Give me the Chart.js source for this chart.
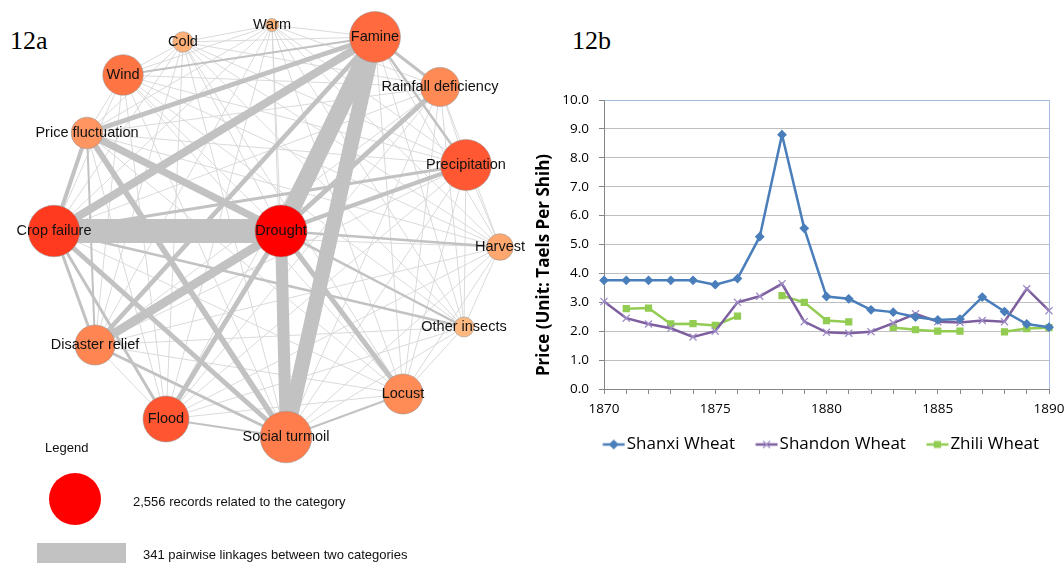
<!DOCTYPE html>
<html><head><meta charset="utf-8">
<script src="https://cdn.jsdelivr.net/npm/chart.js@4.4.1/dist/chart.umd.min.js"></script>
<style>
html,body{margin:0;padding:0;background:#fff;width:1064px;height:563px;overflow:hidden;position:relative}
#net{position:absolute;left:0;top:0}
#price{position:absolute;left:530px;top:70px}
.tag{position:absolute;font-family:"Liberation Serif","DejaVu Serif",serif;font-size:26px;color:#000;line-height:1}
</style></head><body>
<div class="tag" style="left:10px;top:28px">12a</div>
<div class="tag" style="left:572px;top:28px">12b</div>
<canvas id="net" width="530" height="563"></canvas>
<canvas id="price" width="550" height="410"></canvas>
<script>
// ---------- 12a data: network of categories ----------
const nodeNames = ['Famine','Warm','Cold','Wind','Rainfall deficiency','Price fluctuation','Precipitation',
  'Crop failure','Drought','Harvest','Other insects','Disaster relief','Flood','Social turmoil','Locust'];
const nodeX = [375,272,183,123,440,87,466,54,281,500,464,95,166,286,403];
const nodeY = [37,25,42,75,87,133,165,231,231,247,327,345,419,437,394];
const nodeRecords = [2450,160,400,1550,1450,950,2450,2520,2556,670,380,1520,2000,2520,1520];
const linkFrom = ['Crop failure','Famine','Famine','Drought','Drought','Famine','Price fluctuation','Price fluctuation',
  'Famine','Crop failure','Drought','Drought','Drought','Famine','Drought','Crop failure','Famine','Crop failure',
  'Crop failure','Crop failure','Disaster relief','Famine','Crop failure','Drought','Drought','Famine',
  'Price fluctuation','Flood','Social turmoil'];
const linkTo = ['Drought','Drought','Social turmoil','Social turmoil','Disaster relief','Crop failure','Drought','Social turmoil',
  'Price fluctuation','Social turmoil','Locust','Flood','Rainfall deficiency','Disaster relief','Precipitation','Price fluctuation','Rainfall deficiency','Precipitation',
  'Disaster relief','Flood','Social turmoil','Precipitation','Other insects','Harvest','Other insects','Wind',
  'Disaster relief','Social turmoil','Locust'];
const linkCounts = [410,290,255,205,150,135,120,100,85,85,85,85,85,80,70,68,50,50,50,50,50,42,40,40,40,34,34,34,34];
const minorLinkCount = 15;        // every remaining pair of categories
const legendRecords = 2556;
const legendLinks = 341;

// ---------- 12b data: wheat prices ----------
const years = ['1870','1871','1872','1873','1874','1875','1876','1877','1878','1879','1880',
  '1881','1882','1883','1884','1885','1886','1887','1888','1889','1890'];
const shanxiWheat = [3.76,3.76,3.76,3.76,3.76,3.61,3.82,5.27,8.80,5.56,3.20,3.12,2.74,2.66,2.49,2.39,2.42,3.18,2.68,2.25,2.14];
const shandonWheat = [3.03,2.45,2.25,2.10,1.80,2.00,3.00,3.21,3.64,2.33,1.96,1.93,1.98,2.28,2.60,2.33,2.30,2.37,2.33,3.47,2.71];
const zhiliWheat = [null,2.78,2.80,2.25,2.26,2.20,2.52,null,3.23,3.00,2.37,2.32,null,2.13,2.05,2.00,2.00,null,1.98,2.09,2.12];
const yTicks = [0,1,2,3,4,5,6,7,8,9,10];

// ---------- styles ----------
const nodeColors = ['#FF6A3F','#FFB57C','#FFB079','#FF7443','#FF8A55','#FF9661','#FF5833',
  '#FF3A1E','#FF0000','#FFA76F','#FFB87F','#FF8552','#FF5530','#FF7D4C','#FF8B56'];
const MAX_R = 26, MAX_W = 20;
const radiusOf = rec => MAX_R * Math.sqrt(rec / legendRecords);
const widthOf = n => Math.max(0.9, MAX_W * n / legendLinks);

// build edges (complete graph, known strong links overridden)
const idx = name => nodeNames.indexOf(name);
const strong = {};
linkFrom.forEach((f, k) => {
  const a = idx(f), b = idx(linkTo[k]);
  strong[Math.min(a,b) + '-' + Math.max(a,b)] = linkCounts[k];
});
const edgeSets = [];
for (let a = 0; a < nodeNames.length; a++) {
  for (let b = a + 1; b < nodeNames.length; b++) {
    const key = a + '-' + b;
    const isStrong = strong[key] !== undefined;
    const n = isStrong ? strong[key] : minorLinkCount;
    edgeSets.push({
      type: 'line',
      data: [{x: nodeX[a], y: nodeY[a]}, {x: nodeX[b], y: nodeY[b]}],
      borderColor: isStrong ? '#C2C2C2' : '#D6D6D6',
      borderWidth: widthOf(n),
      borderCapStyle: 'butt',
      pointRadius: 0,
      showLine: true,
      fill: false,
      order: isStrong ? 2 + (1 / n) : 5,
      clip: false
    });
  }
}
const nodeSet = {
  type: 'scatter',
  data: nodeNames.map((nm, i) => ({x: nodeX[i], y: nodeY[i]})),
  pointRadius: nodeRecords.map(radiusOf),
  pointBackgroundColor: nodeColors,
  pointBorderColor: 'rgba(150,150,150,0.55)',
  pointBorderWidth: 1,
  order: 0,
  clip: false
};

const netLabels = {
  id: 'netLabels',
  afterDatasetsDraw(chart) {
    const {ctx, scales: {x, y}} = chart;
    ctx.save();
    ctx.font = '14.5px "Liberation Sans", Arial, sans-serif';
    ctx.fillStyle = '#111';
    ctx.textAlign = 'center';
    ctx.textBaseline = 'middle';
    nodeNames.forEach((nm, i) => ctx.fillText(nm, x.getPixelForValue(nodeX[i]), y.getPixelForValue(nodeY[i])));
    // legend
    ctx.font = '13px "Liberation Sans", Arial, sans-serif';
    ctx.textAlign = 'left';
    ctx.fillText('Legend', 45, 448);
    ctx.beginPath();
    ctx.arc(75, 499, radiusOf(legendRecords), 0, Math.PI * 2);
    ctx.fillStyle = '#FF0000';
    ctx.fill();
    ctx.fillStyle = '#111';
    ctx.fillText('2,556 records related to the category', 133, 502);
    ctx.fillStyle = '#C2C2C2';
    ctx.fillRect(37, 543, 89, widthOf(legendLinks));
    ctx.fillStyle = '#111';
    ctx.fillText('341 pairwise linkages between two categories', 143, 555);
    ctx.restore();
  }
};

new Chart(document.getElementById('net'), {
  type: 'scatter',
  data: {datasets: [nodeSet, ...edgeSets]},
  options: {
    responsive: false, animation: false, devicePixelRatio: 1, events: [],
    layout: {padding: 0, autoPadding: false},
    plugins: {legend: {display: false}, tooltip: {enabled: false}},
    scales: {
      x: {type: 'linear', min: 0, max: 530, display: false},
      y: {type: 'linear', min: 0, max: 563, reverse: true, display: false}
    }
  },
  plugins: [netLabels]
});

// ---------- 12b chart ----------
const seriesStyles = [
  {label: 'Shanxi Wheat', color: '#4A7EBB', marker: 'rectRot', markerColor: '#4A7EBB', r: 4},
  {label: 'Shandon Wheat', color: '#7D5FA0', marker: 'crossRot', markerColor: '#A08DC6', r: 5},
  {label: 'Zhili Wheat', color: '#92CC52', marker: 'rect', markerColor: '#92CC52', r: 4.2}
];
const seriesData = [shanxiWheat, shandonWheat, zhiliWheat];

function legendImage(st) {
  const c = document.createElement('canvas');
  c.width = 40; c.height = 12;
  const g = c.getContext('2d');
  g.strokeStyle = st.color; g.lineWidth = 2.5;
  g.beginPath(); g.moveTo(17.5, 6); g.lineTo(39.5, 6); g.stroke();
  g.fillStyle = st.markerColor; g.strokeStyle = st.markerColor; g.lineWidth = 1.3;
  Chart.helpers.drawPoint(g, {pointStyle: st.marker, radius: st.r, borderWidth: 1.3}, 28.5, 6);
  return c;
}

const yTitle = {
  id: 'yTitle',
  afterDraw(chart) {
    const {ctx, chartArea} = chart;
    ctx.save();
    ctx.translate(14.5, chartArea.bottom - 124);
    ctx.rotate(-Math.PI / 2);
    ctx.font = 'bold 17px "Open Sans", "DejaVu Sans", sans-serif';
    ctx.fillStyle = '#000';
    ctx.textAlign = 'center';
    ctx.textBaseline = 'middle';
    ctx.fillText('Price (Unit: Taels Per Shih)', 0, 0);
    ctx.restore();
  }
};

const tickFont = {family: '"Open Sans", "DejaVu Sans", sans-serif', size: 13.5};
new Chart(document.getElementById('price'), {
  type: 'line',
  data: {
    labels: years,
    datasets: seriesStyles.map((st, i) => ({
      label: st.label,
      data: seriesData[i],
      borderColor: st.color,
      backgroundColor: st.markerColor,
      borderWidth: 2.5,
      pointStyle: st.marker,
      pointRadius: st.r,
      pointBackgroundColor: st.markerColor,
      pointBorderColor: st.markerColor,
      pointBorderWidth: 1.3,
      tension: 0,
      spanGaps: false,
      clip: 8
    }))
  },
  options: {
    responsive: false, animation: false, devicePixelRatio: 1, events: [],
    layout: {padding: {left: 4, right: 31, top: 30, bottom: 17}},
    plugins: {
      tooltip: {enabled: false},
      legend: {
        position: 'bottom', align: 'end',
        labels: {
          usePointStyle: true, pointStyleWidth: 26, padding: 10, color: '#000',
          font: {family: '"Open Sans", "DejaVu Sans", sans-serif', size: 17},
          generateLabels: () => seriesStyles.map((st, i) => ({
            text: st.label, pointStyle: legendImage(st), fillStyle: st.color,
            strokeStyle: st.color, lineWidth: 0, hidden: false, datasetIndex: i
          }))
        }
      }
    },
    scales: {
      x: {
        offset: false,
        grid: {
          drawOnChartArea: true, drawTicks: true, tickLength: 5, tickColor: '#868686',
          color: ctx => ctx.index === years.length - 1 ? '#A7BFDE' : 'rgba(0,0,0,0)'
        },
        border: {color: '#868686', width: 1},
        ticks: {autoSkip: false, maxRotation: 0, padding: 7, color: '#000', font: tickFont,
          callback: (v, i) => i % 5 === 0 ? years[i] : ''},
        afterFit: s => { s.height = 37; }
      },
      y: {
        min: yTicks[0], max: yTicks[yTicks.length - 1],
        afterBuildTicks: s => { s.ticks = yTicks.map(v => ({value: v})); },
        grid: {tickLength: 5, tickColor: '#868686',
          color: ctx => ctx.tick && ctx.tick.value === 10 ? '#A7BFDE' : '#BEBEBE'},
        border: {color: '#868686', width: 1},
        ticks: {padding: 10, color: '#000', font: tickFont, callback: v => Number(v).toFixed(1)},
        title: {display: false},
        afterFit: s => { s.width = 70; }
      }
    }
  },
  plugins: [yTitle]
});
</script></body></html>
